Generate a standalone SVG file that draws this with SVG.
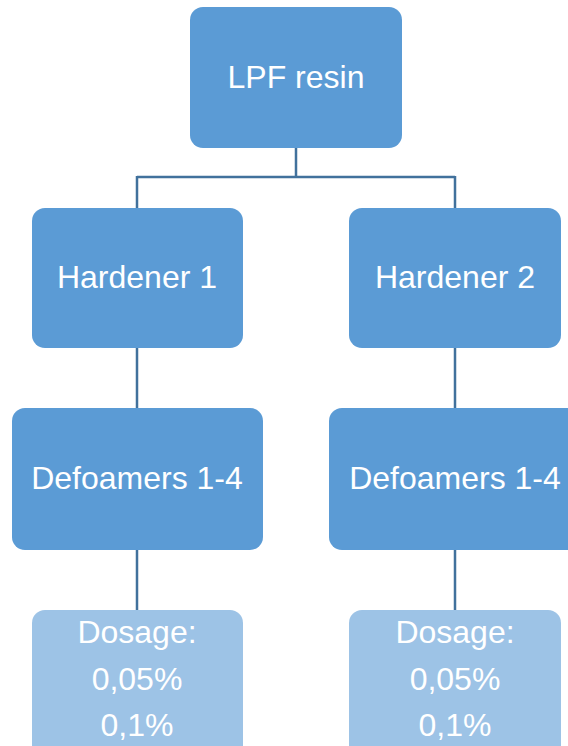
<svg xmlns="http://www.w3.org/2000/svg" width="568" height="746" viewBox="0 0 568 746">
<style>
.box{fill:#5B9BD5;}
.lbox{fill:#9DC3E6;}
.t{font-family:"Liberation Sans",Arial,sans-serif;font-size:32px;fill:#FFFFFF;text-anchor:middle;}
.c{fill:none;stroke:#41719C;stroke-width:2.5;}
</style>
<rect width="568" height="746" fill="#FFFFFF"/>
<g id="connectors">
<path class="c" d="M296 148 V177 M137 177 H455 M137 176 V208 M455 176 V208"/>
<path class="c" d="M137 348 V408 M455 348 V408 M137 550 V610 M455 550 V610"/>
</g>
<g id="lpf"><rect class="box" x="190" y="7" width="212" height="141" rx="13"/><text class="t" x="296" y="88">LPF resin</text></g>
<g id="hardener1"><rect class="box" x="32" y="208" width="211" height="140" rx="13"/><text class="t" x="137" y="288">Hardener 1</text></g>
<g id="hardener2"><rect class="box" x="349" y="208" width="212" height="140" rx="13"/><text class="t" x="455" y="288">Hardener 2</text></g>
<g id="defoamers1"><rect class="box" x="12" y="408" width="251" height="142" rx="13"/><text class="t" x="137" y="489">Defoamers 1-4</text></g>
<g id="defoamers2"><rect class="box" x="329" y="408" width="251" height="142" rx="13"/><text class="t" x="455" y="489">Defoamers 1-4</text></g>
<g id="dosage1"><rect class="lbox" x="32" y="610" width="211" height="150" rx="13"/><text class="t" x="137" y="643">Dosage:</text><text class="t" x="137" y="690">0,05%</text><text class="t" x="137" y="736">0,1%</text></g>
<g id="dosage2"><rect class="lbox" x="349" y="610" width="212" height="150" rx="13"/><text class="t" x="455" y="643">Dosage:</text><text class="t" x="455" y="690">0,05%</text><text class="t" x="455" y="736">0,1%</text></g>
</svg>
